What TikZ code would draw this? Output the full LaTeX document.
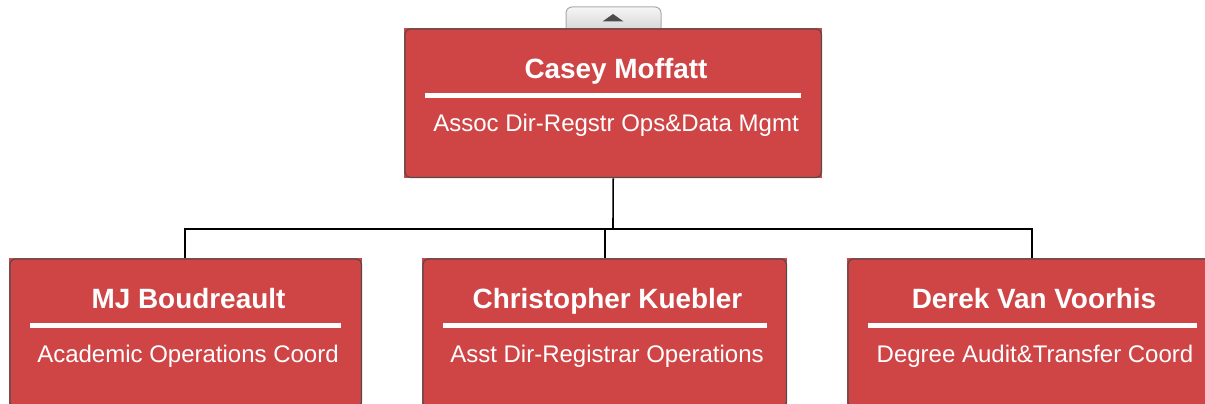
\documentclass[tikz,border=0pt]{standalone}
\usepackage{fontspec}
\setmainfont{Liberation Sans}
\definecolor{boxred}{RGB}{207,69,70}
\definecolor{boxedge}{RGB}{85,75,75}
\definecolor{tabtop}{RGB}{246,246,246}
\definecolor{tabbot}{RGB}{214,214,214}
\definecolor{tabedge}{RGB}{170,170,170}
\begin{document}
\begin{tikzpicture}[x=1pt,y=-1pt,
  card/.style={rectangle,fill=boxred,draw=none,inner sep=0pt,anchor=north west},
  edge/.style={draw=boxedge,line width=1.2pt,rounded corners=5pt},
  nametext/.style={text=white,font=\fontsize{27.9}{31}\selectfont\bfseries,inner sep=0pt,anchor=base},
  roletext/.style={text=white,font=\fontsize{24}{27}\selectfont,inner sep=0pt,anchor=base},
  rule/.style={draw=white,line width=5pt},
  wire/.style={draw=black,line width=1.6pt}]
\useasboundingbox (0,0) rectangle (1205,404);
% tab
\path[top color=tabtop,bottom color=tabbot,draw=tabedge,line width=1pt,rounded corners=6pt]
  (566,30) -- (566,7) -- (661,7) -- (661,30);
\fill[black!70] (602.5,21.5) -- (613,14) -- (623.5,21.5) -- cycle;
% top card
\node[card,minimum width=418pt,minimum height=150pt] (top) at (404,28) {};
\draw[edge] ([xshift=1pt,yshift=-1pt]top.north west) rectangle ([xshift=-1pt,yshift=1pt]top.south east);
\node[nametext] (topname) at (616,78) {Casey Moffatt};
\draw[rule] (425,95) coordinate (tl1) -- (801,95) coordinate (tl2);
\node[roletext] (toprole) at (616,131) {Assoc Dir-Regstr Ops\&Data Mgmt};
% child cards
\node[card,minimum width=353pt,minimum height=150pt] (c1) at (9,258) {};
\draw[edge] ([xshift=1pt,yshift=-1pt]c1.north west) rectangle ([xshift=-1pt,yshift=1pt]c1.south east);
\node[nametext] (c1name) at (188.5,308) {MJ Boudreault};
\draw[rule] (30,325) coordinate (a1) -- (341,325) coordinate (a2);
\node[roletext] (c1role) at (188,362) {Academic Operations Coord};

\node[card,minimum width=365pt,minimum height=150pt] (c2) at (422,258) {};
\draw[edge] ([xshift=1pt,yshift=-1pt]c2.north west) rectangle ([xshift=-1pt,yshift=1pt]c2.south east);
\node[nametext] (c2name) at (607.5,308) {Christopher Kuebler};
\draw[rule] (443,325) coordinate (b1) -- (767,325) coordinate (b2);
\node[roletext] (c2role) at (607,362) {Asst Dir-Registrar Operations};

\node[card,minimum width=365pt,minimum height=150pt] (c3) at (847,258) {};
\draw[edge] ([xshift=1pt,yshift=-1pt]c3.north west) rectangle ([xshift=-1pt,yshift=1pt]c3.south east);
\node[nametext] (c3name) at (1034,308) {Derek Van Voorhis};
\draw[rule] (868,325) coordinate (d1) -- (1197,325) coordinate (d2);
\node[roletext] (c3role) at (1035,362) {Degree Audit\&Transfer Coord};
% connectors
\coordinate (bus) at (613,229);
\coordinate (busL) at (185,229);
\coordinate (busM) at (605,229);
\coordinate (busR) at (1032,229);
\coordinate (inL) at (185,258);
\coordinate (inM) at (605,258);
\coordinate (inR) at (1032,258);
\draw[wire] (top.south) -- (bus);
\draw[wire] (inL) -- (busL) -- (busR) -- (inR);
\draw[wire] (busM) -- (inM);
\end{tikzpicture}
\end{document}
